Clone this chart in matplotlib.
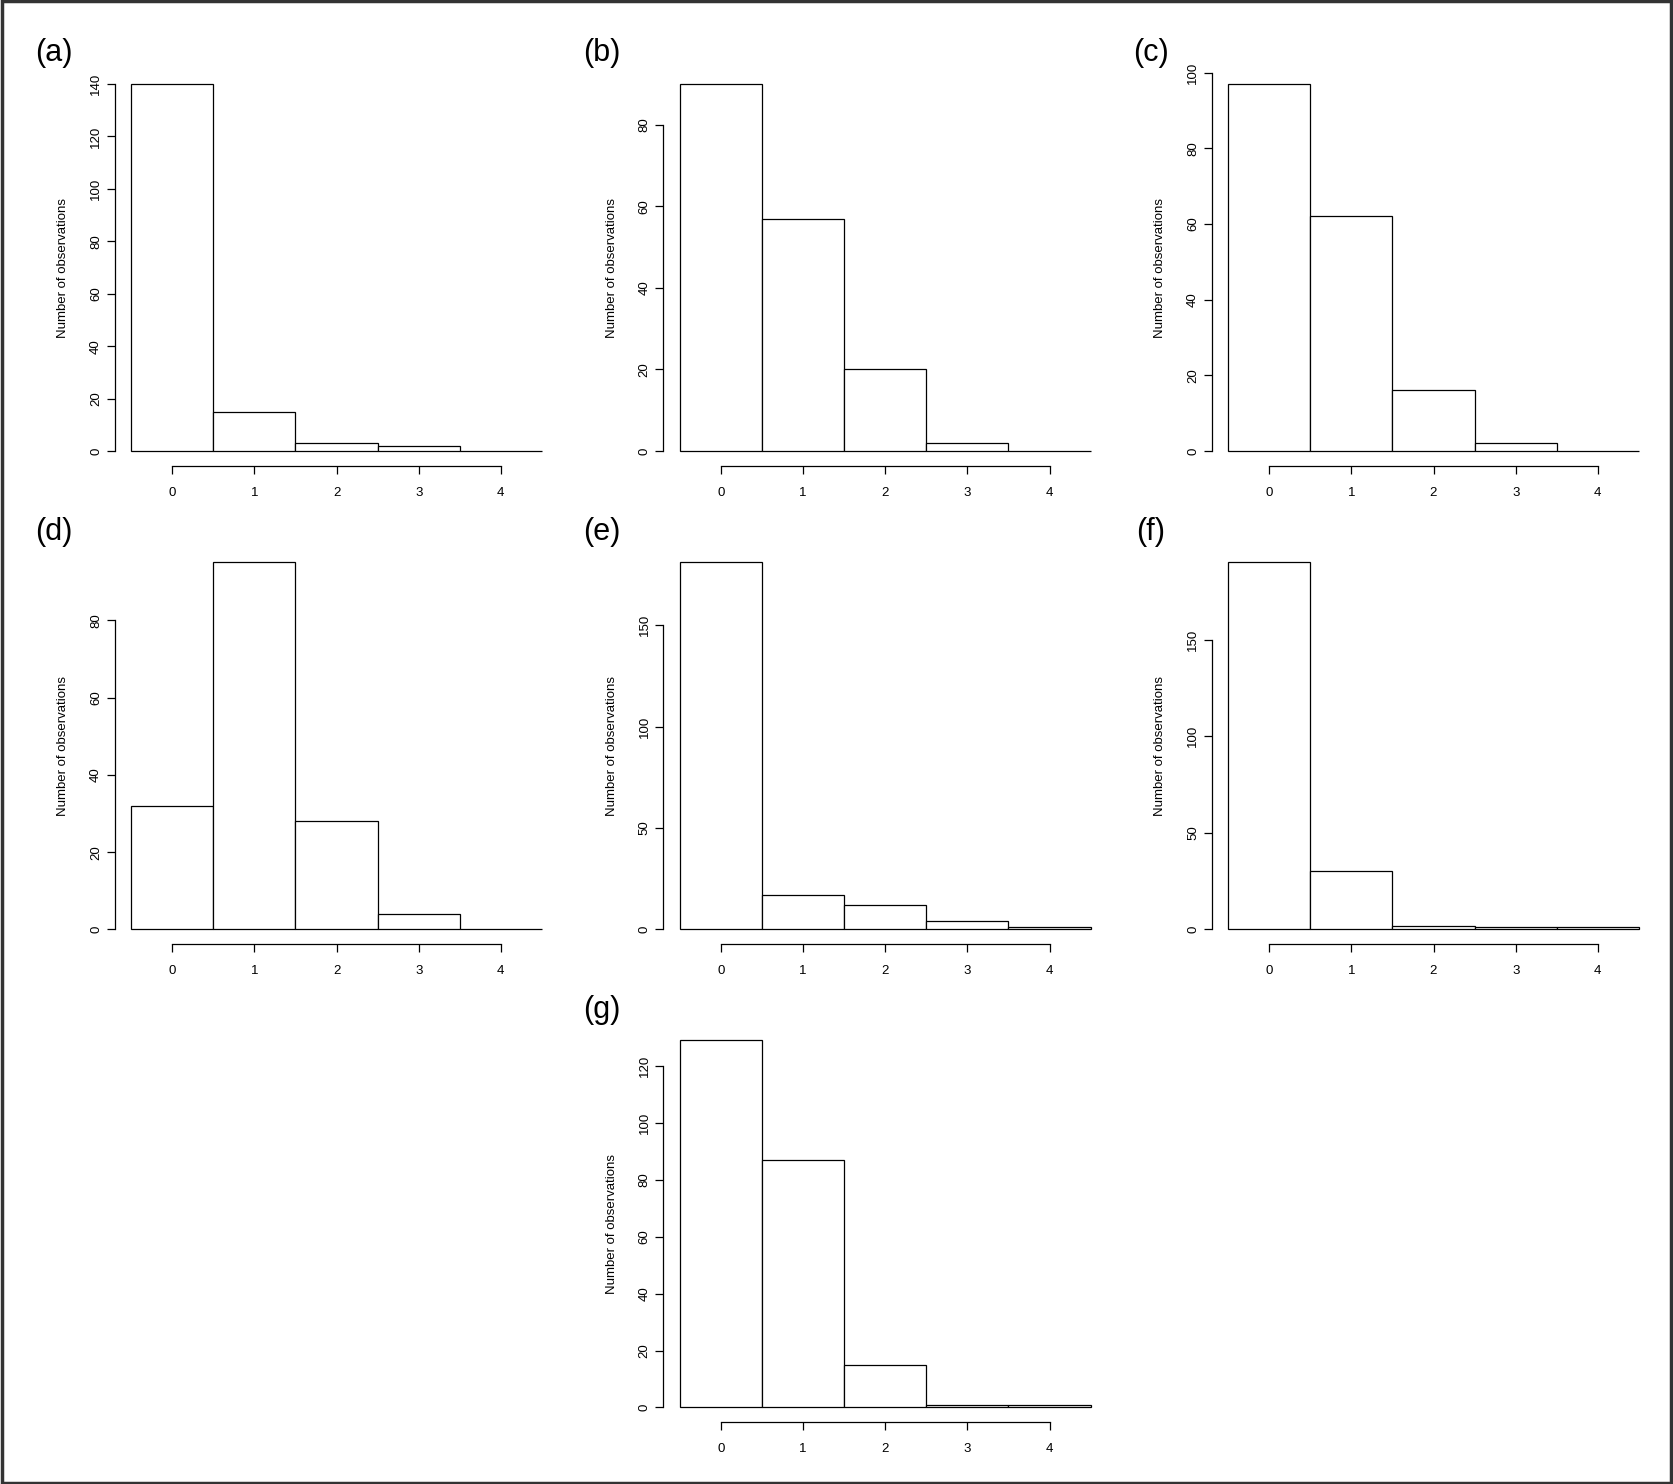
import matplotlib.pyplot as plt
from matplotlib.patches import Rectangle

plt.rcParams['font.family'] = ['Liberation Sans', 'DejaVu Sans']

# counts of observations for 0..4 events, one list per panel
values = [0, 1, 2, 3, 4]
counts_a = [140, 15, 3, 2, 0]
counts_b = [90, 57, 20, 2, 0]
counts_c = [97, 62, 16, 2, 0]
counts_d = [32, 95, 28, 4, 0]
counts_e = [181, 17, 12, 4, 1]
counts_f = [190, 30, 2, 1, 1]
counts_g = [129, 87, 15, 1, 1]

yticks_a = [0, 20, 40, 60, 80, 100, 120, 140]
yticks_b = [0, 20, 40, 60, 80]
yticks_c = [0, 20, 40, 60, 80, 100]
yticks_d = [0, 20, 40, 60, 80]
yticks_e = [0, 50, 100, 150]
yticks_f = [0, 50, 100, 150]
yticks_g = [0, 20, 40, 60, 80, 100, 120]

panel_labels = ["(a)", "(b)", "(c)", "(d)", "(e)", "(f)", "(g)"]

W, H = 1673, 1484
fig = plt.figure(figsize=(W / 100, H / 100), dpi=100)

col_left = [114.6, 663.3, 1211.6]
row_top = [69.3, 547.7, 1025.7]
pw, ph = 443.8, 396.4

panels = [
    (counts_a, yticks_a, 0, 0),
    (counts_b, yticks_b, 0, 1),
    (counts_c, yticks_c, 0, 2),
    (counts_d, yticks_d, 1, 0),
    (counts_e, yticks_e, 1, 1),
    (counts_f, yticks_f, 1, 2),
    (counts_g, yticks_g, 2, 1),
]

for (counts, yt, r, c), lab in zip(panels, panel_labels):
    x0 = col_left[c]
    y0 = row_top[r]
    ax = fig.add_axes([x0 / W, 1 - (y0 + ph) / H, pw / W, ph / H])
    ax.bar(values, counts, width=1.0, color="white", edgecolor="black", linewidth=0.9)
    top = max(counts)
    ax.set_xlim(-0.7, 4.7)
    ax.set_ylim(-0.04 * top, 1.04 * top)
    ax.spines['top'].set_visible(False)
    ax.spines['right'].set_visible(False)
    ax.spines['left'].set_bounds(yt[0], yt[-1])
    ax.spines['bottom'].set_bounds(0, 4)
    ax.spines['left'].set_linewidth(0.9)
    ax.spines['bottom'].set_linewidth(0.9)
    ax.set_xticks(values)
    ax.set_yticks(yt)
    ax.set_yticklabels([str(v) for v in yt], rotation=90, va="center")
    ax.tick_params(axis="both", direction="out", length=6, width=0.9, labelsize=9.5, colors="black")
    ax.tick_params(axis="x", pad=9)
    ax.tick_params(axis="y", pad=3)
    ax.set_ylabel("Number of observations", fontsize=9.5, labelpad=15)
    ax.patch.set_alpha(0)
    fig.text((x0 - 61) / W, 1 - (y0 - 16) / H, lab, fontsize=22, ha="center", va="center")

# frame around the whole figure
fig.patches.append(Rectangle((0.001, 0.001), 0.998, 0.998, transform=fig.transFigure,
                             fill=False, edgecolor="#333333", linewidth=2.5))

fig.savefig("out.png", dpi=100)
